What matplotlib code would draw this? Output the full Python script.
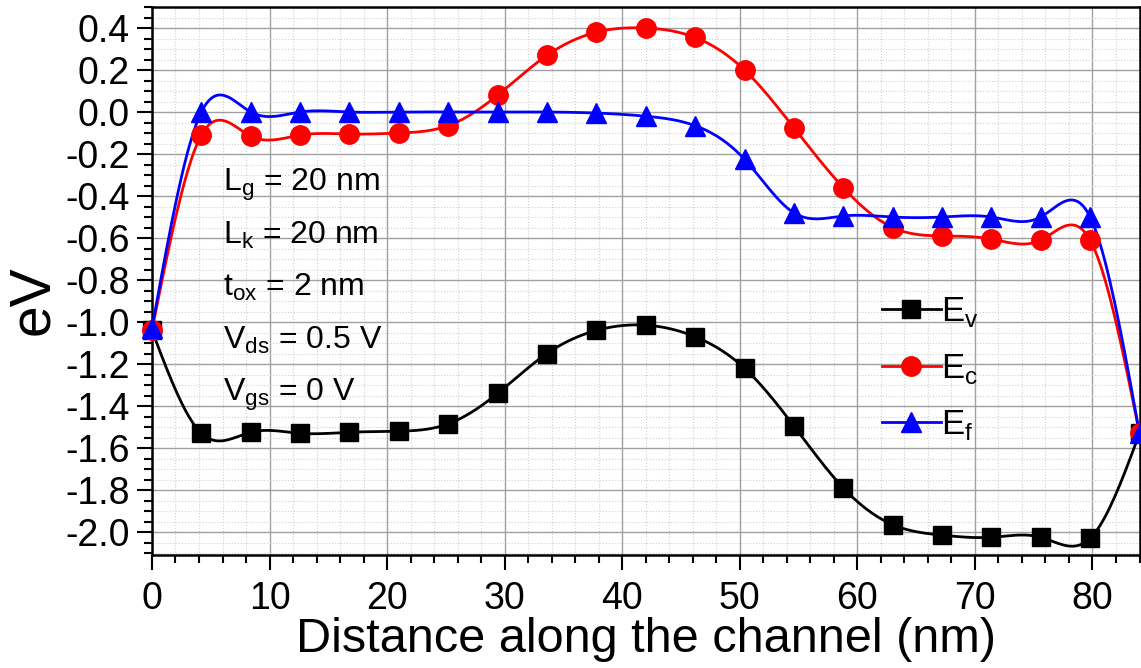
import numpy as np
import matplotlib.pyplot as plt
from matplotlib.lines import Line2D
from matplotlib.ticker import MultipleLocator

plt.rcParams['font.family'] = ['Liberation Sans', 'DejaVu Sans']
plt.rcParams['mathtext.fontset'] = 'custom'
plt.rcParams['mathtext.rm'] = 'Liberation Sans'

# position along the channel (nm)
x = [0, 4.2, 8.4, 12.6, 16.8, 21, 25.2, 29.4, 33.6, 37.8, 42,
     46.2, 50.4, 54.6, 58.8, 63, 67.2, 71.4, 75.6, 79.8, 84]

Ev = [-1.04, -1.53, -1.525, -1.53, -1.525, -1.52, -1.485, -1.34, -1.15, -1.04, -1.015,
      -1.07, -1.22, -1.495, -1.79, -1.965, -2.015, -2.025, -2.025, -2.03, -1.53]
Ec = [-1.04, -0.11, -0.115, -0.11, -0.105, -0.10, -0.065, 0.08, 0.27, 0.38, 0.40,
      0.355, 0.20, -0.075, -0.36, -0.55, -0.59, -0.605, -0.61, -0.61, -1.53]
Ef = [-1.03, 0.0, 0.0, 0.0, 0.0, 0.0, 0.0, 0.0, 0.0, -0.005, -0.02,
      -0.065, -0.225, -0.48, -0.495, -0.5, -0.5, -0.5, -0.5, -0.5, -1.53]

params = ['L$_\\mathregular{g}$ = 20 nm', 'L$_\\mathregular{k}$ = 20 nm',
          't$_\\mathregular{ox}$ = 2 nm', 'V$_\\mathregular{ds}$ = 0.5 V',
          'V$_\\mathregular{gs}$ = 0 V']


def spline(xs, ys, n=400):
    # natural cubic spline through the points
    xs = np.asarray(xs, float)
    ys = np.asarray(ys, float)
    m = len(xs)
    h = np.diff(xs)
    A = np.zeros((m, m))
    b = np.zeros(m)
    A[0, 0] = A[-1, -1] = 1
    for i in range(1, m - 1):
        A[i, i - 1] = h[i - 1]
        A[i, i] = 2 * (h[i - 1] + h[i])
        A[i, i + 1] = h[i]
        b[i] = 6 * ((ys[i + 1] - ys[i]) / h[i] - (ys[i] - ys[i - 1]) / h[i - 1])
    M = np.linalg.solve(A, b)
    xx = np.linspace(xs[0], xs[-1], n)
    k = np.clip(np.searchsorted(xs, xx) - 1, 0, m - 2)
    t0 = xs[k + 1] - xx
    t1 = xx - xs[k]
    hk = h[k]
    yy = (M[k] * t0**3 / (6 * hk) + M[k + 1] * t1**3 / (6 * hk)
          + (ys[k] / hk - M[k] * hk / 6) * t0 + (ys[k + 1] / hk - M[k + 1] * hk / 6) * t1)
    return xx, yy


fig = plt.figure(figsize=(11.41, 6.68), dpi=100)
ax = fig.add_axes([0.1332, 0.169, 0.8655, 0.8205])

series = [(Ev, 'black', 's', 13, 'E$_\\mathregular{v}$'),
          (Ec, 'red', 'o', 14, 'E$_\\mathregular{c}$'),
          (Ef, 'blue', '^', 15, 'E$_\\mathregular{f}$')]
handles = []
for ys, c, mk, ms, lab in series:
    xx, yy = spline(x, ys)
    ax.plot(xx, yy, color=c, lw=2, zorder=3)
    ax.plot(x, ys, ls='none', marker=mk, ms=ms, color=c, zorder=4, clip_on=False)
    handles.append(Line2D([], [], color=c, lw=2, marker=mk, ms=ms, label=lab))

ax.set_xlim(0, 84)
ax.set_ylim(-2.11, 0.5)
ax.xaxis.set_major_locator(MultipleLocator(10))
ax.xaxis.set_minor_locator(MultipleLocator(2))
ax.yaxis.set_major_locator(MultipleLocator(0.2))
ax.yaxis.set_minor_locator(MultipleLocator(0.05))
ax.yaxis.set_major_formatter(lambda v, p: f'{v:.1f}')

ax.grid(which='major', color='#a0a0a0', lw=1, zorder=0)
ax.grid(which='minor', color='#d0d0d0', lw=0.8, ls=':', zorder=0)
ax.set_axisbelow(True)

ax.tick_params(which='major', direction='out', length=11, width=1.5, labelsize=27,
               top=False, right=False)
ax.tick_params(axis='x', which='major', pad=8)
ax.tick_params(axis='y', which='major', pad=5)
ax.tick_params(which='minor', direction='out', length=6, width=1.5, top=False, right=False)
for s in ax.spines.values():
    s.set_linewidth(1.8)

ax.set_xlabel('Distance along the channel (nm)', fontsize=35, labelpad=0)
ax.set_ylabel('eV', fontsize=41)
ax.yaxis.set_label_coords(-0.093, 0.465)

for i, t in enumerate(params):
    ax.text(6.0, -0.375 - 0.25 * i, t, fontsize=23, va='baseline', ha='left')

leg = ax.legend(handles=handles, loc='center left', bbox_to_anchor=(0.739, 0.34),
                frameon=False, fontsize=25, handlelength=1.7, handletextpad=0.0,
                labelspacing=0.65, borderaxespad=0, borderpad=0)

fig.savefig('out.png', dpi=100)
